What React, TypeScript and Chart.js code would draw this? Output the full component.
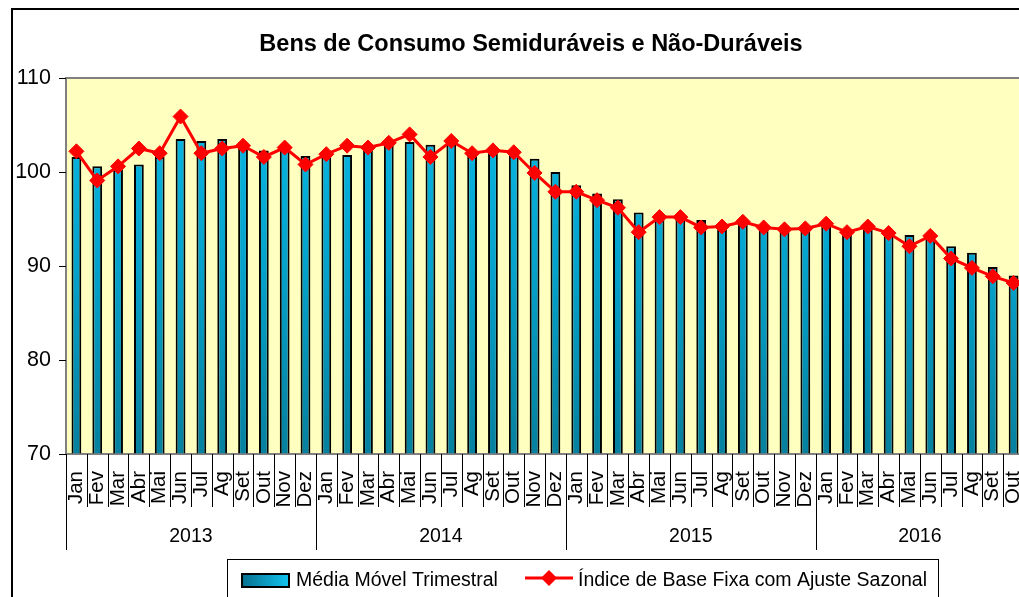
import React, { useEffect, useRef } from "react";
import { Chart, registerables } from "chart.js";

Chart.register(...registerables);

const chartTitle = "Bens de Consumo Semiduráveis e Não-Duráveis";
const monthNames = ["Jan", "Fev", "Mar", "Abr", "Mai", "Jun", "Jul", "Ag", "Set", "Out", "Nov", "Dez"];
const yearLabels = ["2013", "2014", "2015", "2016"];
const monthsPerYear = [12, 12, 12, 10];
const seriesNames = ["Média Móvel Trimestral", "Índice de Base Fixa com Ajuste Sazonal"];

const mediaMovel = [
  101.6, 100.6, 100.5, 100.8, 101.6, 103.5, 103.3, 103.5, 102.8, 102.3, 102.6, 101.7,
  101.9, 101.8, 102.6, 102.9, 103.2, 102.9, 103.0, 102.0, 102.3, 102.1, 101.4, 100.0,
  98.6, 97.7, 97.1, 95.7, 95.1, 95.0, 94.9, 94.4, 94.6, 94.3, 94.0, 94.0,
  94.3, 93.9, 94.0, 93.6, 93.3, 93.1, 92.1, 91.4, 89.9, 89.0,
];

const indice = [
  102.2, 99.1, 100.6, 102.5, 102.0, 105.9, 102.0, 102.5, 102.8, 101.6, 102.6, 100.8,
  101.9, 102.8, 102.6, 103.1, 104.0, 101.6, 103.3, 102.0, 102.3, 102.1, 99.9, 97.9,
  97.9, 97.0, 96.2, 93.6, 95.2, 95.2, 94.1, 94.2, 94.7, 94.1, 93.9, 94.0,
  94.5, 93.6, 94.2, 93.5, 92.1, 93.2, 90.8, 89.8, 88.9, 88.2,
];

const yMin = 70;
const yMax = 110;
const yStep = 10;

const categories: string[] = [];
monthsPerYear.forEach((n) => {
  for (let i = 0; i < n; i++) categories.push(monthNames[i]);
});

const FONT = '"Liberation Sans", Arial, Helvetica, sans-serif';

function barGradient(ctx: CanvasRenderingContext2D, top: number, bottom: number) {
  const g = ctx.createLinearGradient(0, top, 0, bottom);
  g.addColorStop(0, "#08BCE8");
  g.addColorStop(0.5, "#04A2CC");
  g.addColorStop(1, "#06809F");
  return g;
}

const decor = {
  id: "decor",
  beforeDraw(chart: any) {
    const { ctx, chartArea: a } = chart;
    ctx.save();
    ctx.fillStyle = "#ffffff";
    ctx.fillRect(0, 0, chart.width, chart.height);
    ctx.strokeStyle = "#000000";
    ctx.lineWidth = 2;
    ctx.strokeRect(12, 9, chart.width + 40, chart.height + 40);
    ctx.fillStyle = "#FFFFC0";
    ctx.fillRect(a.left, a.top, a.right - a.left, a.bottom - a.top);
    ctx.strokeStyle = "#808080";
    ctx.lineWidth = 2;
    ctx.strokeRect(a.left, a.top, a.right - a.left, a.bottom - a.top);
    ctx.restore();
  },
  afterDraw(chart: any) {
    const { ctx, chartArea: a } = chart;
    const xs = chart.scales.x;
    const n = categories.length;
    const w = (a.right - a.left) / n;
    ctx.save();

    ctx.strokeStyle = "#808080";
    ctx.lineWidth = 1.5;
    ctx.beginPath();
    ctx.moveTo(a.left, a.bottom);
    ctx.lineTo(a.right, a.bottom);
    ctx.stroke();

    const bounds: number[] = [0];
    monthsPerYear.reduce((acc, m) => {
      bounds.push(acc + m);
      return acc + m;
    }, 0);
    ctx.strokeStyle = "#000000";
    ctx.lineWidth = 1;
    for (let i = 0; i <= n; i++) {
      const x = Math.round(xs.getPixelForValue(Math.min(i, n - 1)) + (i === n ? w / 2 : -w / 2)) + 0.5;
      const len = bounds.includes(i) ? 96 : 53;
      ctx.beginPath();
      ctx.moveTo(x, a.bottom);
      ctx.lineTo(x, a.bottom + len);
      ctx.stroke();
    }

    ctx.fillStyle = "#000000";
    ctx.font = `20.5px ${FONT}`;
    categories.forEach((lab, i) => {
      const x = xs.getPixelForValue(i);
      ctx.save();
      ctx.translate(x, a.bottom + 17);
      ctx.rotate(-Math.PI / 2);
      ctx.textAlign = "right";
      ctx.textBaseline = "middle";
      ctx.fillText(lab, 0, 0);
      ctx.restore();
    });

    ctx.font = `19.5px ${FONT}`;
    ctx.textAlign = "center";
    ctx.textBaseline = "middle";
    yearLabels.forEach((yl, k) => {
      const x0 = xs.getPixelForValue(bounds[k]) - w / 2;
      const x1 = xs.getPixelForValue(bounds[k + 1] - 1) + w / 2;
      ctx.fillText(yl, (x0 + x1) / 2, a.bottom + 83);
    });

    ctx.font = `bold 23.5px ${FONT}`;
    ctx.fillText(chartTitle, 531, 45);

    ctx.strokeStyle = "#000000";
    ctx.lineWidth = 1;
    ctx.strokeRect(227.5, 559.5, 711, 60);
    const sg = ctx.createLinearGradient(242, 0, 289, 0);
    sg.addColorStop(0, "#06708E");
    sg.addColorStop(1, "#12C4F0");
    ctx.fillStyle = sg;
    ctx.fillRect(242, 574, 47, 13);
    ctx.lineWidth = 2;
    ctx.strokeRect(242, 574, 47, 13);
    ctx.fillStyle = "#000000";
    ctx.font = `19.5px ${FONT}`;
    ctx.textAlign = "left";
    ctx.textBaseline = "middle";
    ctx.fillText(seriesNames[0], 296, 581);

    ctx.strokeStyle = "#FF0000";
    ctx.lineWidth = 3;
    ctx.beginPath();
    ctx.moveTo(525, 578);
    ctx.lineTo(573, 578);
    ctx.stroke();
    ctx.fillStyle = "#FF0000";
    ctx.beginPath();
    ctx.moveTo(549, 570);
    ctx.lineTo(557, 578);
    ctx.lineTo(549, 586);
    ctx.lineTo(541, 578);
    ctx.closePath();
    ctx.fill();
    ctx.fillStyle = "#000000";
    ctx.fillText(seriesNames[1], 578, 581);

    ctx.restore();
  },
};

export default function App() {
  const ref = useRef<HTMLCanvasElement | null>(null);

  useEffect(() => {
    if (!ref.current) return;
    const chart = new Chart(ref.current, {
      type: "bar",
      data: {
        labels: categories,
        datasets: [
          {
            type: "line",
            label: seriesNames[1],
            data: indice,
            borderColor: "#FF0000",
            backgroundColor: "#FF0000",
            borderWidth: 3,
            pointStyle: "rectRot",
            pointRadius: 7.5,
            pointBackgroundColor: "#FF0000",
            pointBorderColor: "#FF0000",
            pointBorderWidth: 1,
            tension: 0,
            order: 1,
          } as any,
          {
            type: "bar",
            label: seriesNames[0],
            data: mediaMovel,
            backgroundColor: (c: any) => {
              const a = c.chart.chartArea;
              if (!a) return "#04A2CC";
              return barGradient(c.chart.ctx, a.top, a.bottom);
            },
            borderColor: "#000000",
            borderWidth: 2,
            categoryPercentage: 1,
            barPercentage: 0.47,
            order: 2,
          } as any,
        ],
      },
      options: {
        responsive: false,
        animation: false,
        devicePixelRatio: 1,
        layout: { padding: { left: 12, right: 16, top: 78, bottom: 0 } },
        plugins: {
          legend: { display: false },
          title: { display: false },
          tooltip: { enabled: false },
        },
        scales: {
          x: {
            offset: true,
            grid: { display: false },
            border: { display: false },
            ticks: { display: false },
            afterFit: (s: any) => {
              s.height = 143;
            },
          },
          y: {
            min: yMin,
            max: yMax,
            border: { display: false },
            grid: { drawOnChartArea: false, drawTicks: true, tickLength: 7, color: "#000000", lineWidth: 1 },
            ticks: {
              stepSize: yStep,
              color: "#000000",
              padding: 8,
              font: { size: 21.5, family: FONT },
            },
            afterFit: (s: any) => {
              s.width = 54;
            },
          },
        },
      },
      plugins: [decor],
    });
    return () => chart.destroy();
  }, []);

  return (
    <div
      style={{
        position: "fixed",
        left: 0,
        top: 0,
        width: 1019,
        height: 597,
        overflow: "hidden",
        background: "#ffffff",
      }}
    >
      <canvas ref={ref} width={1040} height={597} style={{ display: "block", width: 1040, height: 597 }} />
    </div>
  );
}
